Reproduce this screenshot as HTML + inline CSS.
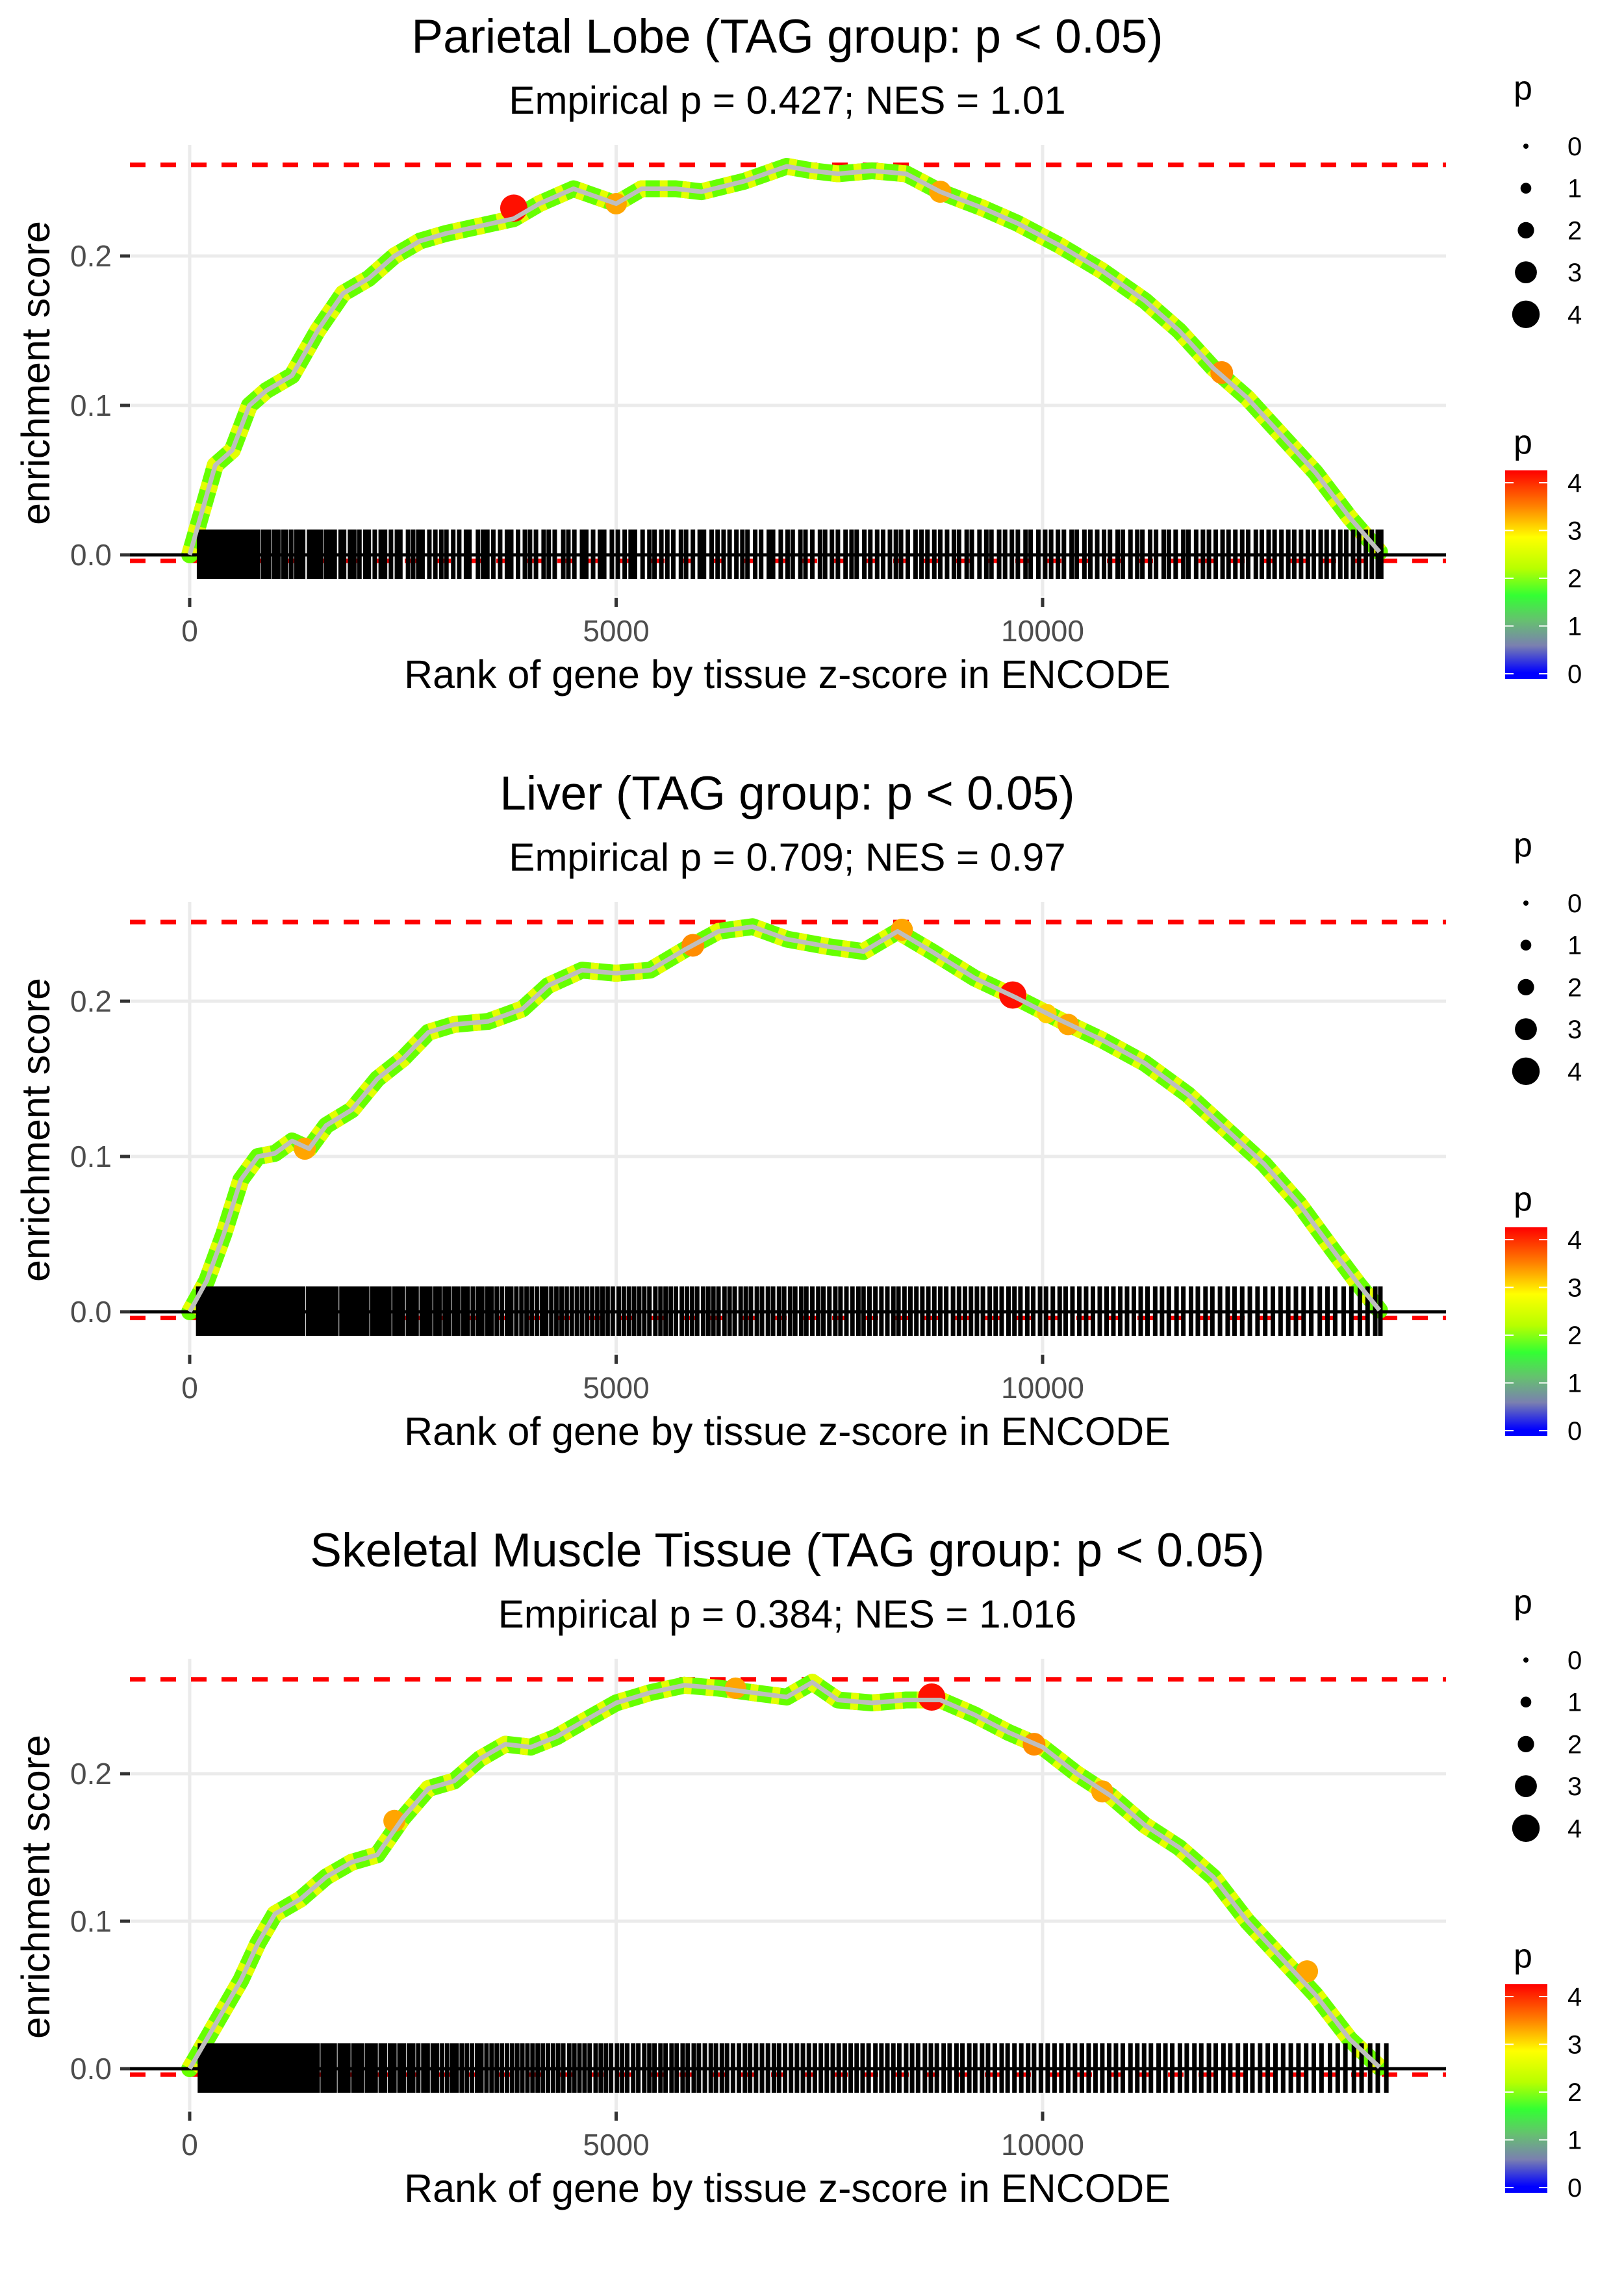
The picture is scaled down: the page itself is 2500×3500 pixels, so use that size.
<!DOCTYPE html>
<html><head><meta charset="utf-8"><style>
html,body{margin:0;padding:0;background:#fff;}
svg{display:block;font-family:"Liberation Sans",sans-serif;}
</style></head><body>
<svg id="chart" width="2500" height="3500" viewBox="0 0 2500 3500" xmlns="http://www.w3.org/2000/svg">
<defs>
<linearGradient id="pgrad" x1="0" y1="0" x2="0" y2="1">
<stop offset="0" stop-color="#ff0000"/><stop offset="0.17" stop-color="#ff8000"/><stop offset="0.32" stop-color="#ffff00"/><stop offset="0.47" stop-color="#b8ff00"/><stop offset="0.6" stop-color="#33ff33"/><stop offset="0.72" stop-color="#66c070"/><stop offset="0.84" stop-color="#7a80b0"/><stop offset="0.97" stop-color="#0000ff"/><stop offset="1" stop-color="#0000ff"/>
</linearGradient>
</defs>
</svg>
<script>
// ---- data ----
const xTicks = [0, 5000, 10000];
const yTicks = [0, 0.1, 0.2];
const yTickLabels = ["0.0", "0.1", "0.2"];
const legendValues = [0, 1, 2, 3, 4];
const titles = ["Parietal Lobe (TAG group: p < 0.05)", "Liver (TAG group: p < 0.05)", "Skeletal Muscle Tissue (TAG group: p < 0.05)"];
const subtitles = ["Empirical p = 0.427; NES = 1.01", "Empirical p = 0.709; NES = 0.97", "Empirical p = 0.384; NES = 1.016"];
const maxES = [0.261, 0.251, 0.264];
const minES = [-0.004, -0.004, -0.004];

const rank1 = [0,150,300,500,700,900,1200,1500,1800,2100,2400,2700,3000,3400,3800,4100,4500,5000,5300,5700,6000,6500,7000,7300,7600,8000,8400,8800,9300,9700,10200,10700,11200,11600,12000,12400,12800,13200,13600,13950];
const es1 = [0,0.03,0.06,0.07,0.1,0.11,0.12,0.15,0.175,0.185,0.2,0.21,0.215,0.22,0.225,0.235,0.245,0.235,0.245,0.245,0.243,0.25,0.26,0.257,0.255,0.257,0.255,0.243,0.232,0.222,0.207,0.19,0.17,0.15,0.125,0.105,0.08,0.055,0.025,0.002];
const rank2 = [0,200,400,600,800,1000,1200,1400,1600,1900,2200,2500,2800,3100,3500,3900,4200,4600,5000,5400,5800,6200,6600,7000,7500,7900,8300,8700,9200,9700,10200,10700,11200,11700,12200,12600,13000,13400,13700,13950];
const es2 = [0,0.02,0.05,0.085,0.1,0.102,0.11,0.105,0.12,0.13,0.15,0.163,0.18,0.185,0.187,0.195,0.21,0.22,0.218,0.22,0.233,0.245,0.248,0.24,0.235,0.232,0.245,0.232,0.215,0.202,0.188,0.175,0.16,0.14,0.115,0.095,0.07,0.04,0.018,0.001];
const rank3 = [0,200,400,600,800,1000,1300,1600,1900,2200,2500,2800,3100,3400,3700,4000,4300,4600,5000,5400,5800,6200,6600,7000,7300,7600,8000,8400,8800,9200,9600,10000,10400,10800,11200,11600,12000,12400,12800,13200,13600,13950];
const es3 = [0,0.02,0.04,0.06,0.085,0.105,0.115,0.13,0.14,0.145,0.17,0.19,0.195,0.21,0.22,0.218,0.225,0.235,0.248,0.255,0.26,0.258,0.255,0.252,0.262,0.25,0.248,0.25,0.25,0.24,0.228,0.218,0.2,0.185,0.165,0.15,0.13,0.1,0.075,0.05,0.02,0.001];

const hitRank1 = [3800, 5000, 8800, 12100];
const hitES1 = [0.232, 0.235, 0.243, 0.122];
const hitP1 = [4.2, 3.3, 3.4, 3.5];
const hitRank2 = [1350, 5900, 8350, 9650, 10050, 10300];
const hitES2 = [0.105, 0.236, 0.246, 0.204, 0.192, 0.185];
const hitP2 = [3.4, 3.5, 3.4, 4.2, 3.0, 3.3];
const hitRank3 = [2400, 6400, 8700, 9900, 10700, 13100];
const hitES3 = [0.168, 0.258, 0.252, 0.22, 0.188, 0.066];
const hitP3 = [3.4, 3.3, 4.2, 3.5, 3.4, 3.4];

const rug1 = [110,140,180,215,260,290,330,380,420,455,500,540,590,640,670,720,770,800,860,900,930,990,1040,1100,1130,1190,1250,1290,1330,1400,1440,1490,1540,1600,1650,1700,1770,1810,1880,1930,1990,2060,2100,2170,2240,2290,2360,2430,2470,2560,2620,2680,2730,2810,2880,2950,3010,3090,3160,3240,3280,3380,3440,3490,3560,3640,3720,3770,3850,3930,3990,4060,4150,4210,4280,4380,4440,4510,4600,4650,4730,4810,4860,4950,5020,5100,5170,5220,5310,5390,5450,5530,5600,5670,5760,5820,5900,5980,6030,6120,6190,6260,6330,6410,6480,6540,6630,6700,6790,6840,6930,7010,7070,7160,7220,7300,7390,7450,7530,7600,7690,7760,7820,7910,7980,8060,8130,8210,8280,8340,8420,8510,8580,8650,8730,8800,8880,8960,9020,9110,9170,9260,9340,9400,9490,9560,9640,9710,9800,9860,9950,10030,10100,10180,10250,10340,10400,10490,10560,10640,10720,10790,10880,10940,11030,11110,11170,11260,11330,11420,11480,11560,11650,11710,11800,11880,11950,12030,12110,12180,12260,12340,12410,12500,12570,12650,12720,12800,12880,12950,13030,13110,13180,13260,13330,13410,13490,13560,13640,13710,13790,13860,13930,13970];
const rug2 = [100,130,170,200,240,280,310,350,400,430,470,520,560,600,640,690,730,770,820,860,910,950,1000,1050,1090,1140,1190,1240,1290,1330,1390,1430,1480,1530,1580,1630,1680,1720,1780,1830,1880,1930,1980,2030,2080,2140,2190,2240,2290,2340,2400,2450,2500,2560,2610,2660,2720,2770,2820,2880,2930,2990,3040,3100,3150,3210,3260,3320,3380,3430,3490,3540,3600,3660,3720,3770,3830,3890,3950,4010,4070,4130,4180,4240,4300,4360,4420,4480,4540,4600,4660,4720,4780,4840,4900,4960,5030,5090,5150,5210,5270,5330,5390,5460,5520,5580,5640,5700,5770,5830,5890,5950,6020,6080,6140,6200,6270,6330,6390,6460,6520,6580,6650,6710,6780,6840,6910,6970,7040,7100,7170,7230,7300,7370,7430,7500,7570,7630,7700,7770,7840,7900,7970,8040,8110,8180,8250,8310,8380,8450,8520,8590,8660,8730,8800,8870,8950,9020,9090,9160,9230,9300,9380,9450,9520,9600,9670,9740,9820,9890,9970,10040,10120,10200,10270,10350,10430,10510,10590,10670,10750,10830,10910,10990,11070,11150,11230,11320,11400,11480,11570,11650,11740,11820,11910,11990,12080,12170,12250,12340,12430,12520,12610,12700,12790,12880,12970,13060,13150,13250,13340,13430,13530,13620,13720,13810,13900,13960];
const rug3 = [120,160,200,230,270,310,350,400,440,470,510,560,600,650,690,740,790,830,880,930,970,1020,1070,1120,1160,1210,1260,1310,1360,1400,1450,1500,1560,1610,1660,1700,1760,1810,1860,1920,1970,2020,2080,2130,2180,2240,2290,2350,2400,2460,2510,2570,2620,2680,2740,2790,2850,2900,2960,3020,3080,3130,3190,3250,3310,3370,3420,3480,3540,3600,3660,3720,3780,3840,3900,3960,4020,4080,4140,4200,4260,4320,4380,4450,4510,4570,4630,4690,4760,4820,4880,4940,5010,5070,5130,5200,5260,5330,5390,5450,5520,5580,5650,5710,5780,5840,5910,5970,6040,6110,6170,6240,6300,6370,6440,6510,6570,6640,6710,6780,6850,6910,6980,7050,7120,7190,7260,7330,7400,7470,7540,7610,7680,7750,7820,7890,7960,8040,8110,8180,8250,8320,8400,8470,8540,8620,8690,8760,8840,8910,8990,9060,9140,9210,9290,9360,9440,9520,9590,9670,9750,9830,9900,9980,10060,10140,10220,10300,10380,10460,10540,10620,10700,10780,10860,10940,11030,11110,11190,11270,11360,11440,11520,11610,11690,11780,11860,11950,12030,12120,12200,12290,12380,12460,12550,12640,12730,12820,12910,13000,13090,13180,13270,13370,13460,13550,13650,13740,13840,13930,14030];

// ---- layout (pixels) ----
const zeroYs = [854, 2019, 3184];
const pxPerUnitY = [2300, 2390, 2270];
const X0 = 292, PX_PER_RANK = 0.1313;
const LEFT = 200, RIGHT = 2226;

const svg = document.getElementById('chart');
const NS = 'http://www.w3.org/2000/svg';
function mk(tag, attrs, parent) {
  const e = document.createElementNS(NS, tag);
  for (const k in attrs) e.setAttribute(k, attrs[k]);
  (parent || svg).appendChild(e);
  return e;
}
function xs(r) { return X0 + r * PX_PER_RANK; }
function pColor(p) {
  if (p >= 4) return '#ff1000';
  if (p >= 3.45) return '#ff8c00';
  if (p >= 3.2) return '#ffa500';
  return '#ffd000';
}

const allRanks = [rank1, rank2, rank3];
const allES = [es1, es2, es3];
const allHitR = [hitRank1, hitRank2, hitRank3];
const allHitE = [hitES1, hitES2, hitES3];
const allHitP = [hitP1, hitP2, hitP3];
const allRug = [rug1, rug2, rug3];

for (let i = 0; i < 3; i++) {
  const z = zeroYs[i], k = pxPerUnitY[i];
  const ys = v => z - v * k;
  const top = z - 631, bottom = z + 64;
  const g = mk('g', {});
  
  

  for (const t of yTicks) {
    const l = mk('line', {x1: LEFT, x2: RIGHT, y1: ys(t), y2: ys(t), stroke: '#ebebeb', 'stroke-width': 5}, g);
    
    
  }
  for (const t of xTicks) {
    const l = mk('line', {x1: xs(t), x2: xs(t), y1: top, y2: bottom, stroke: '#ebebeb', 'stroke-width': 5}, g);
    
    
  }
  yTicks.forEach((t, j) => {
    const tm = mk('line', {x1: 185, x2: 200, y1: ys(t), y2: ys(t), stroke: '#333', 'stroke-width': 5}, g);
    
    
    const tx = mk('text', {x: 172, y: ys(t) + 16, 'text-anchor': 'end', 'font-size': 46, fill: '#4d4d4d'}, g);
    tx.textContent = yTickLabels[j];
    
    
  });
  xTicks.forEach(t => {
    const tm = mk('line', {x1: xs(t), x2: xs(t), y1: z + 66, y2: z + 80, stroke: '#333', 'stroke-width': 5}, g);
    
    
    const tx = mk('text', {x: xs(t), y: z + 133, 'text-anchor': 'middle', 'font-size': 46, fill: '#4d4d4d'}, g);
    tx.textContent = String(t);
    
    
  });

  const rt = mk('line', {x1: LEFT, x2: RIGHT, y1: ys(maxES[i]), y2: ys(maxES[i]), stroke: '#ff0000', 'stroke-width': 7, 'stroke-dasharray': '24 23'}, g);
  
  
  const rb = mk('line', {x1: LEFT, x2: RIGHT, y1: ys(minES[i]), y2: ys(minES[i]), stroke: '#ff0000', 'stroke-width': 7, 'stroke-dasharray': '24 23'}, g);
  
  

  const pts = allRanks[i].map((r, j) => xs(r).toFixed(1) + ',' + ys(allES[i][j]).toFixed(1)).join(' ');
  const band = mk('polyline', {points: pts, fill: 'none', stroke: '#66ff00', 'stroke-width': 26, 'stroke-linejoin': 'round', 'stroke-linecap': 'round'}, g);
  
  
  const band2 = mk('polyline', {points: pts, fill: 'none', stroke: '#e4ff00', 'stroke-width': 26, 'stroke-dasharray': '12 22', 'stroke-linejoin': 'round'}, g);
  
  

  allRug[i].forEach(r => {
    const l = mk('line', {x1: xs(r), x2: xs(r), y1: z - 39, y2: z + 37, stroke: '#000', 'stroke-width': 7}, g);
    
    
  });
  const zl = mk('line', {x1: LEFT, x2: RIGHT, y1: z, y2: z, stroke: '#000', 'stroke-width': 5}, g);
  
  

  allHitR[i].forEach((r, j) => {
    const p = allHitP[i][j];
    const c = mk('circle', {cx: xs(r), cy: ys(allHitE[i][j]), r: 5 * p, fill: pColor(p)}, g);
    
    
  });
  const gl = mk('polyline', {points: pts, fill: 'none', stroke: '#bebebe', 'stroke-width': 7, 'stroke-linejoin': 'round'}, g);
  
  

  const tt = mk('text', {x: 1212, y: z - 773, 'text-anchor': 'middle', 'font-size': 73, fill: '#000'}, g);
  tt.textContent = titles[i];
  
  
  const st = mk('text', {x: 1212, y: z - 679, 'text-anchor': 'middle', 'font-size': 60, fill: '#000'}, g);
  st.textContent = subtitles[i];
  
  
  const xt = mk('text', {x: 1212, y: z + 205, 'text-anchor': 'middle', 'font-size': 61, fill: '#000'}, g);
  xt.textContent = 'Rank of gene by tissue z-score in ENCODE';
  
  
  const yt = mk('text', {x: 0, y: 0, 'text-anchor': 'middle', 'font-size': 61, fill: '#000', transform: 'translate(76,' + (z - 280) + ') rotate(-90)'}, g);
  yt.textContent = 'enrichment score';
  
  

  const sl = mk('text', {x: 2330, y: z - 701, 'font-size': 52, fill: '#000'}, g);
  sl.textContent = 'p';
  
  
  legendValues.forEach((v, j) => {
    const cy = z - 629 + j * 64.7;
    const c = mk('circle', {cx: 2349, cy: cy, r: 4 + v * 4.3, fill: '#000'}, g);
    
    
    const t = mk('text', {x: 2413, y: cy + 14, 'font-size': 40, fill: '#000'}, g);
    t.textContent = String(v);
    
    
  });
  const cl = mk('text', {x: 2330, y: z - 156, 'font-size': 52, fill: '#000'}, g);
  cl.textContent = 'p';
  
  
  const bar = mk('rect', {x: 2317, y: z - 130, width: 65, height: 321, fill: 'url(#pgrad)'}, g);
  
  
  legendValues.forEach(v => {
    const y = z + 183 - v * 73.5;
    const a = mk('line', {x1: 2317, x2: 2330, y1: y, y2: y, stroke: '#fff', 'stroke-width': 2}, g);
    
    
    const b = mk('line', {x1: 2369, x2: 2382, y1: y, y2: y, stroke: '#fff', 'stroke-width': 2}, g);
    
    
    const t = mk('text', {x: 2413, y: y + 14, 'font-size': 40, fill: '#000'}, g);
    t.textContent = String(v);
    
    
  });
}
</script>
</body></html>
